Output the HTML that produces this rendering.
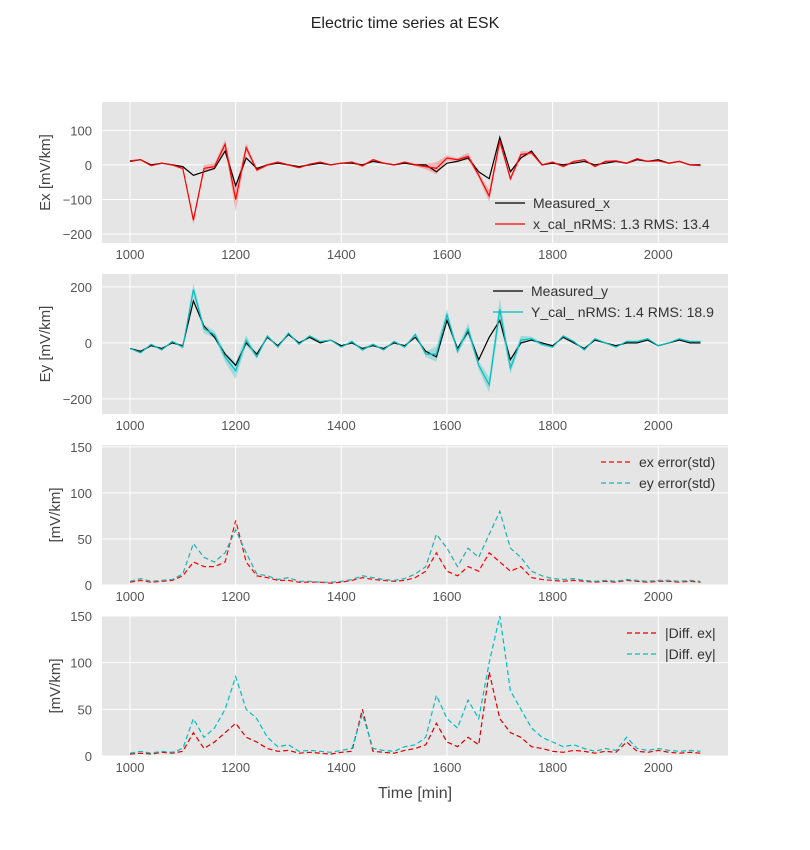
<!DOCTYPE html>
<html><head><meta charset="utf-8">
<style>
body{margin:0;background:#fff;}
svg{display:block;font-family:"Liberation Sans","DejaVu Sans",sans-serif;}
</style></head>
<body>
<svg id="chart" width="810" height="850" viewBox="0 0 810 850">
<text x="405" y="28" text-anchor="middle" font-size="16" fill="#222">Electric time series at ESK</text>
<text x="415" y="798" text-anchor="middle" font-size="16" fill="#444">Time [min]</text>
</svg>
<script>
const times=[1000,1020,1040,1060,1080,1100,1120,1140,1160,1180,1200,1220,1240,1260,1280,1300,1320,1340,1360,1380,1400,1420,1440,1460,1480,1500,1520,1540,1560,1580,1600,1620,1640,1660,1680,1700,1720,1740,1760,1780,1800,1820,1840,1860,1880,1900,1920,1940,1960,1980,2000,2020,2040,2060,2080];
const exMeasured=[10,15,0,5,0,-5,-30,-20,-10,40,-60,20,-10,0,5,0,-5,0,5,0,5,5,0,10,5,0,5,0,0,-20,5,10,20,-20,-40,80,-20,20,40,0,5,0,5,10,0,5,10,5,15,10,15,5,10,0,0];
const exCal=[12,15,-2,5,0,-10,-160,-10,-5,60,-100,50,-15,0,8,0,-8,2,8,0,5,8,-3,15,5,0,8,0,-5,-10,20,15,25,-30,-90,70,-40,30,35,0,8,-5,10,15,-5,10,12,5,18,10,12,5,10,0,-2];
const eyMeasured=[-20,-30,-10,-20,0,-10,150,60,20,-40,-80,0,-40,20,-10,30,0,20,0,10,-10,0,-20,-10,-20,0,-10,20,-30,-50,80,-20,40,-60,20,80,-60,0,10,0,-10,20,0,-20,10,0,-10,0,0,10,-10,0,10,0,0];
const eyCal=[-20,-35,-5,-25,5,-15,190,50,30,-50,-100,10,-50,25,-15,35,-5,25,5,10,-15,5,-25,-5,-25,5,-15,30,-40,-40,100,-30,50,-80,-150,120,-90,10,15,-5,-15,25,5,-25,15,0,-15,5,5,15,-10,0,15,5,5];
const exErr=[3,5,3,4,5,10,25,20,20,25,70,25,10,8,5,5,3,3,3,2,3,5,8,6,5,4,5,8,15,35,15,10,20,15,35,25,15,20,8,6,5,4,5,4,3,4,3,5,4,3,4,4,3,4,3];
const eyErr=[4,7,4,5,6,12,45,30,25,35,60,35,12,10,6,8,4,4,3,3,4,6,10,8,6,5,7,12,20,55,40,20,40,30,55,80,40,30,15,10,7,6,7,5,4,5,4,6,5,4,5,5,4,5,4];
const diffEx=[2,3,2,4,3,5,25,8,15,25,35,20,15,8,5,6,3,4,3,2,4,5,50,5,4,3,6,8,12,35,15,10,20,12,90,40,25,20,10,8,5,4,6,5,3,5,4,15,5,4,6,4,3,4,3];
const diffEy=[3,5,3,5,4,8,40,20,30,50,85,50,40,20,10,12,5,6,5,4,6,8,45,8,6,5,10,12,20,65,40,30,60,40,100,150,70,50,30,20,15,10,12,8,5,8,6,20,8,6,8,6,5,6,5];
const xTicks=[1000,1200,1400,1600,1800,2000];

const svg=document.getElementById('chart');
const NS='http://www.w3.org/2000/svg';
const L=102,R=728,X0=947,X1=2132;
const sx=t=>L+(t-X0)/(X1-X0)*(R-L);
function mk(tag,attrs,parent){const e=document.createElementNS(NS,tag);for(const k in attrs)e.setAttribute(k,attrs[k]);(parent||svg).appendChild(e);return e;}

const panels=[
 {name:'ex',top:102,bot:243,y0:-226,y1:182,ticks:[100,0,-100,-200],tl:['100','0','\u2212100','\u2212200'],ylab:'Ex [mV/km]'},
 {name:'ey',top:274,bot:414,y0:-254,y1:246,ticks:[200,0,-200],tl:['200','0','\u2212200'],ylab:'Ey [mV/km]'},
 {name:'err',top:445,bot:585,y0:0,y1:152,ticks:[0,50,100,150],tl:['0','50','100','150'],ylab:'[mV/km]'},
 {name:'diff',top:616,bot:756,y0:0,y1:150,ticks:[0,50,100,150],tl:['0','50','100','150'],ylab:'[mV/km]'}
];
function sy(p,v){return p.bot-(v-p.y0)/(p.y1-p.y0)*(p.bot-p.top);}
function linePath(p,vals){return vals.map((v,i)=>(i?'L':'M')+sx(times[i]).toFixed(1)+','+sy(p,v).toFixed(1)).join('');}

panels.forEach((p,pi)=>{
 const g=mk('g',{});
 
 
 mk('rect',{x:L,y:p.top,width:R-L,height:p.bot-p.top,fill:'#e5e5e5'},g);
 xTicks.forEach(t=>{
  mk('line',{x1:sx(t),x2:sx(t),y1:p.top,y2:p.bot,stroke:'#fff','stroke-width':1},g);
  const tx=mk('text',{x:sx(t),y:p.bot+16,'text-anchor':'middle','font-size':13,fill:'#555'},g);
  
  
  tx.textContent=t;
 });
 p.ticks.forEach((v,i)=>{
  const y=sy(p,v);
  mk('line',{x1:L,x2:R,y1:y,y2:y,stroke:'#fff','stroke-width':1},g);
  const tx=mk('text',{x:L-10,y:y+5,'text-anchor':'end','font-size':13,fill:'#555'},g);
  
  
  tx.textContent=p.tl[i];
 });
 const cy=(p.top+p.bot)/2;
 const yl=mk('text',{x:0,y:0,transform:`translate(${pi<2?50:60},${cy}) rotate(-90)`,'text-anchor':'middle','font-size':15,fill:'#444'},g);
 
 
 yl.textContent=p.ylab;
 p.g=g;
});

function band(p,vals,err,color,name){
 let d=vals.map((v,i)=>(i?'L':'M')+sx(times[i]).toFixed(1)+','+sy(p,v+err[i]*0.5).toFixed(1)).join('');
 for(let i=vals.length-1;i>=0;i--)d+='L'+sx(times[i]).toFixed(1)+','+sy(p,vals[i]-err[i]*0.5).toFixed(1);
 const e=mk('path',{d:d+'Z',fill:color,opacity:0.3},p.g);
 
 
}
function line(p,vals,color,name,dash){
 const e=mk('path',{d:linePath(p,vals),fill:'none',stroke:color,'stroke-width':1.2,'stroke-dasharray':dash||'none'},p.g);
 
 
}
band(panels[0],exCal,exErr,'#ff3333','ex-cal-band');
line(panels[0],exMeasured,'#000','measured-x-line');
line(panels[0],exCal,'#ff0000','x-cal-line');
band(panels[1],eyCal,eyErr,'#00bfbf','ey-cal-band');
line(panels[1],eyMeasured,'#000','measured-y-line');
line(panels[1],eyCal,'#00bfbf','y-cal-line');
line(panels[2],exErr,'#ff0000','ex-error-line','5,3');
line(panels[2],eyErr,'#20b0b0','ey-error-line','5,3');
line(panels[3],diffEx,'#dd0000','diff-ex-line','5,3');
line(panels[3],diffEy,'#00bfbf','diff-ey-line','5,3');

function legend(p,x,y,items){
 items.forEach((it,i)=>{
  const g=mk('g',{},p.g);
  
  
  const yy=y+i*21;
  mk('line',{x1:x,x2:x+30,y1:yy,y2:yy,stroke:it[1],'stroke-width':1.3,'stroke-dasharray':it[2]||'none'},g);
  const t=mk('text',{x:x+38,y:yy+5,'font-size':14,fill:'#333'},g);
  t.textContent=it[0];
 });
}
legend(panels[0],495,203,[['Measured_x','#000'],['x_cal_nRMS: 1.3  RMS: 13.4','#ff0000']]);
legend(panels[1],493,291,[['Measured_y','#000'],['Y_cal_ nRMS: 1.4 RMS: 18.9','#00bfbf']]);
legend(panels[2],601,462,[['ex error(std)','#ff0000','5,3'],['ey error(std)','#20b0b0','5,3']]);
legend(panels[3],627,633,[['|Diff. ex|','#dd0000','5,3'],['|Diff. ey|','#00bfbf','5,3']]);
</script>
</body></html>
